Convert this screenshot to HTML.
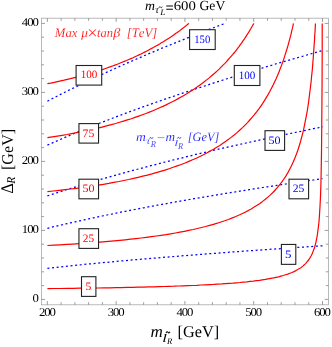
<!DOCTYPE html>
<html><head><meta charset="utf-8"><title>plot</title>
<style>html,body{margin:0;padding:0;background:#fff;}body{width:332px;height:347px;overflow:hidden;font-family:"Liberation Serif",serif;}svg{display:block}text{font-kerning:none}</style>
</head><body>
<svg width="332" height="347" viewBox="0 0 332 347" text-rendering="geometricPrecision" style="will-change:transform">
<rect x="0" y="0" width="332" height="347" fill="#fff"/>
<path d="M47.4,268.3 L51.9,267.8 L56.5,267.3 L61.1,266.9 L65.7,266.4 L70.3,265.9 L74.9,265.4 L79.5,265.0 L84.0,264.5 L88.6,264.0 L93.2,263.6 L97.8,263.2 L102.4,262.7 L107.0,262.3 L111.6,261.9 L116.1,261.4 L120.7,261.0 L125.3,260.6 L129.9,260.2 L134.5,259.8 L139.1,259.4 L143.7,259.0 L148.2,258.6 L152.8,258.2 L157.4,257.9 L162.0,257.5 L166.6,257.1 L171.2,256.7 L175.8,256.4 L180.3,256.0 L184.9,255.6 L189.5,255.3 L194.1,254.9 L198.7,254.5 L203.3,254.2 L207.9,253.8 L212.4,253.5 L217.0,253.2 L221.6,252.8 L226.2,252.5 L230.8,252.1 L235.4,251.8 L240.0,251.5 L244.5,251.1 L249.1,250.8 L253.7,250.5 L258.3,250.2 L262.9,249.8 L267.5,249.5 L272.1,249.2 L276.6,248.9 L281.2,248.6 L285.8,248.3 L290.4,248.0 L295.0,247.6 L299.6,247.3 L304.2,247.0 L308.7,246.7 L313.3,246.4 L317.9,246.1 L322.5,245.8" fill="none" stroke="#0000ff" stroke-width="1.25" stroke-dasharray="2 2.645" stroke-dashoffset="0"/>
<path d="M47.4,228.3 L51.9,227.2 L56.5,226.1 L61.1,225.0 L65.7,223.9 L70.3,222.9 L74.9,221.9 L79.5,220.9 L84.0,219.9 L88.6,218.9 L93.2,217.9 L97.8,216.9 L102.4,216.0 L107.0,215.0 L111.6,214.1 L116.1,213.1 L120.7,212.2 L125.3,211.3 L129.9,210.4 L134.5,209.5 L139.1,208.7 L143.7,207.8 L148.2,206.9 L152.8,206.1 L157.4,205.2 L162.0,204.4 L166.6,203.6 L171.2,202.7 L175.8,201.9 L180.3,201.1 L184.9,200.3 L189.5,199.5 L194.1,198.7 L198.7,197.9 L203.3,197.2 L207.9,196.4 L212.4,195.6 L217.0,194.9 L221.6,194.1 L226.2,193.3 L230.8,192.6 L235.4,191.9 L240.0,191.1 L244.5,190.4 L249.1,189.7 L253.7,188.9 L258.3,188.2 L262.9,187.5 L267.5,186.8 L272.1,186.1 L276.6,185.4 L281.2,184.7 L285.8,184.0 L290.4,183.3 L295.0,182.7 L299.6,182.0 L304.2,181.3 L308.7,180.6 L313.3,180.0 L317.9,179.3 L322.5,178.6" fill="none" stroke="#0000ff" stroke-width="1.25" stroke-dasharray="2 2.645" stroke-dashoffset="0"/>
<path d="M47.4,195.9 L51.9,194.4 L56.5,192.9 L61.1,191.4 L65.7,189.9 L70.3,188.5 L74.9,187.1 L79.5,185.7 L84.0,184.3 L88.6,182.9 L93.2,181.6 L97.8,180.2 L102.4,178.9 L107.0,177.6 L111.6,176.3 L116.1,175.0 L120.7,173.7 L125.3,172.5 L129.9,171.2 L134.5,170.0 L139.1,168.8 L143.7,167.6 L148.2,166.4 L152.8,165.2 L157.4,164.0 L162.0,162.8 L166.6,161.7 L171.2,160.5 L175.8,159.4 L180.3,158.3 L184.9,157.2 L189.5,156.0 L194.1,154.9 L198.7,153.8 L203.3,152.8 L207.9,151.7 L212.4,150.6 L217.0,149.5 L221.6,148.5 L226.2,147.4 L230.8,146.4 L235.4,145.4 L240.0,144.3 L244.5,143.3 L249.1,142.3 L253.7,141.3 L258.3,140.3 L262.9,139.3 L267.5,138.3 L272.1,137.3 L276.6,136.4 L281.2,135.4 L285.8,134.4 L290.4,133.5 L295.0,132.5 L299.6,131.6 L304.2,130.6 L308.7,129.7 L313.3,128.7 L317.9,127.8 L322.5,126.9" fill="none" stroke="#0000ff" stroke-width="1.25" stroke-dasharray="2 2.645" stroke-dashoffset="0"/>
<path d="M47.4,145.1 L51.9,143.1 L56.5,141.1 L61.1,139.1 L65.7,137.1 L70.3,135.1 L74.9,133.2 L79.5,131.3 L84.0,129.4 L88.6,127.6 L93.2,125.8 L97.8,123.9 L102.4,122.1 L107.0,120.4 L111.6,118.6 L116.1,116.8 L120.7,115.1 L125.3,113.4 L129.9,111.7 L134.5,110.0 L139.1,108.3 L143.7,106.7 L148.2,105.1 L152.8,103.4 L157.4,101.8 L162.0,100.2 L166.6,98.6 L171.2,97.1 L175.8,95.5 L180.3,93.9 L184.9,92.4 L189.5,90.9 L194.1,89.4 L198.7,87.9 L203.3,86.4 L207.9,84.9 L212.4,83.4 L217.0,81.9 L221.6,80.5 L226.2,79.0 L230.8,77.6 L235.4,76.2 L240.0,74.8 L244.5,73.3 L249.1,71.9 L253.7,70.6 L258.3,69.2 L262.9,67.8 L267.5,66.4 L272.1,65.1 L276.6,63.7 L281.2,62.4 L285.8,61.0 L290.4,59.7 L295.0,58.4 L299.6,57.1 L304.2,55.8 L308.7,54.5 L313.3,53.2 L317.9,51.9 L322.5,50.6" fill="none" stroke="#0000ff" stroke-width="1.25" stroke-dasharray="2 2.645" stroke-dashoffset="0"/>
<path d="M47.4,101.2 L51.9,98.8 L56.5,96.5 L61.1,94.1 L65.7,91.8 L70.3,89.5 L74.9,87.3 L79.5,85.1 L84.0,82.8 L88.6,80.7 L93.2,78.5 L97.8,76.3 L102.4,74.2 L107.0,72.1 L111.6,70.0 L116.1,68.0 L120.7,65.9 L125.3,63.9 L129.9,61.9 L134.5,59.9 L139.1,57.9 L143.7,55.9 L148.2,54.0 L152.8,52.1 L157.4,50.1 L162.0,48.2 L166.6,46.3 L171.2,44.5 L175.8,42.6 L180.3,40.8 L184.9,38.9 L189.5,37.1 L194.1,35.3 L198.7,33.5 L203.3,31.7 L207.9,29.9 L212.4,28.2 L217.0,26.4 L221.6,24.7 L225.1,23.4" fill="none" stroke="#0000ff" stroke-width="1.25" stroke-dasharray="2 2.645" stroke-dashoffset="0"/>
<path d="M47.4,288.6 L54.0,288.5 L60.6,288.5 L67.1,288.4 L73.5,288.3 L79.8,288.2 L86.1,288.2 L92.2,288.1 L98.3,288.0 L104.2,287.9 L110.1,287.8 L115.9,287.7 L121.6,287.6 L127.2,287.4 L132.7,287.3 L138.2,287.2 L143.5,287.1 L148.8,286.9 L154.0,286.8 L159.1,286.6 L164.1,286.5 L169.0,286.3 L173.9,286.2 L178.6,286.0 L183.3,285.8 L187.9,285.6 L192.4,285.5 L196.8,285.3 L201.1,285.0 L205.4,284.8 L209.6,284.6 L213.7,284.4 L217.7,284.1 L221.6,283.9 L225.4,283.6 L229.2,283.3 L232.9,283.1 L236.5,282.8 L240.0,282.5 L243.4,282.1 L246.8,281.8 L250.1,281.4 L253.3,281.1 L256.4,280.7 L259.4,280.3 L262.4,279.8 L265.3,279.4 L268.1,278.9 L270.8,278.4 L273.5,277.9 L276.1,277.3 L278.6,276.8 L281.0,276.1 L283.3,275.5 L285.6,274.8 L287.8,274.1 L289.9,273.3 L292.0,272.5 L294.0,271.6 L295.9,270.6 L297.7,269.6 L299.5,268.5 L301.2,267.4 L302.8,266.1 L304.3,264.8 L305.8,263.3 L307.2,261.7 L308.6,260.0 L309.8,258.1 L311.0,256.0 L312.2,253.7 L313.2,251.1 L314.3,248.3 L315.2,245.1 L316.1,241.6 L316.9,237.6 L317.6,233.0 L318.3,227.7 L319.0,221.7 L319.5,214.6 L320.0,206.3 L320.5,196.4 L320.9,184.5 L321.2,170.1 L321.5,152.6 L321.7,131.4 L321.9,106.1 L322.1,77.9 L322.2,50.2 L322.2,30.0 L322.2,23.4" fill="none" stroke="#ff0000" stroke-width="1.2" stroke-linejoin="round"/>
<path d="M47.4,245.5 L53.9,245.2 L60.3,244.8 L66.6,244.4 L72.9,244.1 L79.0,243.7 L85.1,243.3 L91.1,242.8 L97.0,242.4 L102.8,241.9 L108.5,241.4 L114.2,240.9 L119.8,240.4 L125.2,239.8 L130.6,239.2 L135.9,238.6 L141.2,238.0 L146.3,237.4 L151.4,236.7 L156.3,236.0 L161.2,235.3 L166.0,234.6 L170.7,233.8 L175.4,233.0 L179.9,232.2 L184.4,231.3 L188.8,230.4 L193.1,229.5 L197.4,228.5 L201.5,227.5 L205.6,226.5 L209.6,225.4 L213.5,224.3 L217.3,223.2 L221.0,222.0 L224.7,220.8 L228.3,219.5 L231.8,218.1 L235.2,216.7 L238.6,215.3 L241.9,213.8 L245.1,212.2 L248.2,210.6 L251.2,208.9 L254.2,207.1 L257.1,205.3 L259.9,203.4 L262.6,201.4 L265.3,199.3 L267.9,197.1 L270.4,194.9 L272.9,192.5 L275.2,190.0 L277.5,187.4 L279.7,184.7 L281.9,181.9 L283.9,179.0 L286.0,175.9 L287.9,172.6 L289.7,169.2 L291.5,165.7 L293.2,161.9 L294.9,158.0 L296.5,154.0 L298.0,149.7 L299.4,145.2 L300.8,140.5 L302.1,135.6 L303.4,130.6 L304.5,125.2 L305.6,119.7 L306.7,114.0 L307.7,108.1 L308.6,102.0 L309.4,95.7 L310.2,89.3 L311.0,82.8 L311.6,76.3 L312.3,69.8 L312.8,63.4 L313.3,57.2 L313.7,51.2 L314.1,45.6 L314.5,40.5 L314.7,35.9 L315.0,32.0 L315.2,28.7 L315.3,26.3 L315.4,24.6 L315.4,23.7 L315.4,23.4" fill="none" stroke="#ff0000" stroke-width="1.2" stroke-linejoin="round"/>
<path d="M47.4,191.6 L53.3,191.0 L59.2,190.3 L65.0,189.7 L70.8,189.0 L76.4,188.3 L82.0,187.5 L87.5,186.8 L92.9,186.0 L98.3,185.1 L103.5,184.3 L108.7,183.4 L113.8,182.4 L118.9,181.5 L123.8,180.5 L128.7,179.5 L133.5,178.4 L138.2,177.3 L142.8,176.2 L147.4,175.1 L151.9,173.9 L156.3,172.6 L160.6,171.4 L164.9,170.1 L169.1,168.7 L173.2,167.3 L177.2,165.9 L181.2,164.5 L185.1,163.0 L188.9,161.4 L192.6,159.8 L196.3,158.2 L199.9,156.5 L203.4,154.8 L206.8,153.0 L210.2,151.1 L213.5,149.3 L216.7,147.3 L219.9,145.4 L222.9,143.3 L225.9,141.2 L228.9,139.1 L231.7,136.9 L234.5,134.7 L237.3,132.4 L239.9,130.0 L242.5,127.6 L245.0,125.1 L247.5,122.6 L249.8,120.0 L252.1,117.4 L254.4,114.7 L256.6,111.9 L258.7,109.1 L260.7,106.3 L262.7,103.4 L264.6,100.4 L266.4,97.4 L268.2,94.4 L269.9,91.3 L271.5,88.2 L273.1,85.1 L274.6,81.9 L276.1,78.8 L277.5,75.6 L278.8,72.4 L280.0,69.3 L281.2,66.1 L282.4,63.0 L283.5,59.9 L284.5,56.9 L285.4,53.9 L286.3,51.0 L287.2,48.2 L288.0,45.5 L288.7,42.9 L289.4,40.4 L290.0,38.1 L290.6,35.9 L291.1,33.8 L291.5,31.9 L291.9,30.2 L292.3,28.7 L292.6,27.4 L292.8,26.3 L293.1,25.3 L293.2,24.6 L293.3,24.0 L293.4,23.7 L293.5,23.5 L293.5,23.4" fill="none" stroke="#ff0000" stroke-width="1.2" stroke-linejoin="round"/>
<path d="M47.4,137.7 L52.4,136.9 L57.3,136.1 L62.2,135.3 L67.0,134.5 L71.7,133.6 L76.4,132.7 L81.0,131.8 L85.6,130.9 L90.1,129.9 L94.5,128.9 L98.8,127.9 L103.1,126.8 L107.3,125.7 L111.5,124.6 L115.6,123.5 L119.6,122.3 L123.5,121.1 L127.4,119.9 L131.3,118.7 L135.0,117.4 L138.7,116.1 L142.4,114.8 L145.9,113.5 L149.4,112.1 L152.9,110.7 L156.3,109.3 L159.6,107.8 L162.9,106.4 L166.1,104.9 L169.2,103.3 L172.3,101.8 L175.3,100.2 L178.2,98.6 L181.1,97.0 L183.9,95.4 L186.7,93.8 L189.4,92.1 L192.0,90.4 L194.6,88.7 L197.1,87.0 L199.6,85.2 L202.0,83.5 L204.3,81.7 L206.6,79.9 L208.9,78.1 L211.0,76.3 L213.1,74.5 L215.2,72.7 L217.2,70.9 L219.1,69.1 L221.0,67.2 L222.8,65.4 L224.6,63.6 L226.3,61.8 L227.9,60.0 L229.5,58.2 L231.1,56.4 L232.6,54.7 L234.0,53.0 L235.4,51.3 L236.7,49.6 L238.0,47.9 L239.2,46.3 L240.3,44.7 L241.5,43.2 L242.5,41.7 L243.5,40.2 L244.5,38.8 L245.4,37.4 L246.2,36.1 L247.0,34.8 L247.8,33.6 L248.5,32.5 L249.2,31.4 L249.8,30.4 L250.3,29.5 L250.9,28.6 L251.3,27.8 L251.8,27.0 L252.1,26.3 L252.5,25.7 L252.8,25.2 L253.0,24.8 L253.3,24.4 L253.4,24.1 L253.6,23.8 L253.7,23.6 L253.7,23.5 L253.8,23.4 L253.8,23.4" fill="none" stroke="#ff0000" stroke-width="1.2" stroke-linejoin="round"/>
<path d="M47.4,83.7 L50.8,83.1 L54.2,82.4 L57.5,81.6 L60.8,80.9 L64.1,80.2 L67.3,79.4 L70.4,78.7 L73.6,77.9 L76.6,77.1 L79.7,76.3 L82.6,75.5 L85.6,74.7 L88.5,73.8 L91.3,73.0 L94.1,72.2 L96.9,71.3 L99.6,70.4 L102.3,69.6 L104.9,68.7 L107.5,67.8 L110.0,66.9 L112.5,66.0 L114.9,65.1 L117.3,64.2 L119.7,63.2 L122.0,62.3 L124.3,61.4 L126.5,60.5 L128.7,59.5 L130.9,58.6 L133.0,57.7 L135.0,56.7 L137.1,55.8 L139.0,54.9 L141.0,54.0 L142.9,53.0 L144.7,52.1 L146.5,51.2 L148.3,50.3 L150.0,49.3 L151.7,48.4 L153.4,47.5 L155.0,46.6 L156.6,45.7 L158.1,44.9 L159.6,44.0 L161.0,43.1 L162.4,42.3 L163.8,41.4 L165.1,40.6 L166.4,39.8 L167.6,39.0 L168.9,38.2 L170.0,37.4 L171.2,36.7 L172.3,35.9 L173.3,35.2 L174.3,34.5 L175.3,33.8 L176.3,33.1 L177.2,32.5 L178.0,31.9 L178.9,31.2 L179.7,30.7 L180.4,30.1 L181.2,29.5 L181.8,29.0 L182.5,28.5 L183.1,28.0 L183.7,27.6 L184.3,27.1 L184.8,26.7 L185.3,26.3 L185.7,26.0 L186.1,25.7 L186.5,25.3 L186.9,25.1 L187.2,24.8 L187.5,24.5 L187.8,24.3 L188.0,24.1 L188.2,24.0 L188.4,23.8 L188.5,23.7 L188.6,23.6 L188.7,23.5 L188.8,23.5 L188.9,23.4 L188.9,23.4 L188.9,23.4" fill="none" stroke="#ff0000" stroke-width="1.2" stroke-linejoin="round"/>
<rect x="41.4" y="18.2" width="287.0" height="286.6" fill="none" stroke="#a8a8a8" stroke-width="0.8"/>
<path d="M47.35,304.8 v-3.7 M47.35,18.2 v3.7 M61.11,304.8 v-2.6 M61.11,18.2 v2.6 M74.87,304.8 v-2.6 M74.87,18.2 v2.6 M88.62,304.8 v-2.6 M88.62,18.2 v2.6 M102.38,304.8 v-2.6 M102.38,18.2 v2.6 M116.14,304.8 v-3.7 M116.14,18.2 v3.7 M129.90,304.8 v-2.6 M129.90,18.2 v2.6 M143.65,304.8 v-2.6 M143.65,18.2 v2.6 M157.41,304.8 v-2.6 M157.41,18.2 v2.6 M171.17,304.8 v-2.6 M171.17,18.2 v2.6 M184.92,304.8 v-3.7 M184.92,18.2 v3.7 M198.68,304.8 v-2.6 M198.68,18.2 v2.6 M212.44,304.8 v-2.6 M212.44,18.2 v2.6 M226.20,304.8 v-2.6 M226.20,18.2 v2.6 M239.95,304.8 v-2.6 M239.95,18.2 v2.6 M253.71,304.8 v-3.7 M253.71,18.2 v3.7 M267.47,304.8 v-2.6 M267.47,18.2 v2.6 M281.23,304.8 v-2.6 M281.23,18.2 v2.6 M294.98,304.8 v-2.6 M294.98,18.2 v2.6 M308.74,304.8 v-2.6 M308.74,18.2 v2.6 M322.50,304.8 v-3.7 M322.50,18.2 v3.7 M41.4,299.40 h3.7 M328.4,299.40 h-3.7 M41.4,285.60 h2.6 M328.4,285.60 h-2.6 M41.4,271.80 h2.6 M328.4,271.80 h-2.6 M41.4,258.00 h2.6 M328.4,258.00 h-2.6 M41.4,244.20 h2.6 M328.4,244.20 h-2.6 M41.4,230.40 h3.7 M328.4,230.40 h-3.7 M41.4,216.60 h2.6 M328.4,216.60 h-2.6 M41.4,202.80 h2.6 M328.4,202.80 h-2.6 M41.4,189.00 h2.6 M328.4,189.00 h-2.6 M41.4,175.20 h2.6 M328.4,175.20 h-2.6 M41.4,161.40 h3.7 M328.4,161.40 h-3.7 M41.4,147.60 h2.6 M328.4,147.60 h-2.6 M41.4,133.80 h2.6 M328.4,133.80 h-2.6 M41.4,120.00 h2.6 M328.4,120.00 h-2.6 M41.4,106.20 h2.6 M328.4,106.20 h-2.6 M41.4,92.40 h3.7 M328.4,92.40 h-3.7 M41.4,78.60 h2.6 M328.4,78.60 h-2.6 M41.4,64.80 h2.6 M328.4,64.80 h-2.6 M41.4,51.00 h2.6 M328.4,51.00 h-2.6 M41.4,37.20 h2.6 M328.4,37.20 h-2.6 M41.4,23.40 h3.7 M328.4,23.40 h-3.7" fill="none" stroke="#858585" stroke-width="0.8"/>
<text transform="translate(46.82,316.30) scale(1.07,1)" font-family="Liberation Serif, serif" font-size="11.9" text-anchor="middle" fill="#000" letter-spacing="-1.0">200</text>
<text transform="translate(115.60,316.30) scale(1.07,1)" font-family="Liberation Serif, serif" font-size="11.9" text-anchor="middle" fill="#000" letter-spacing="-1.0">300</text>
<text transform="translate(184.39,316.30) scale(1.07,1)" font-family="Liberation Serif, serif" font-size="11.9" text-anchor="middle" fill="#000" letter-spacing="-1.0">400</text>
<text transform="translate(253.18,316.30) scale(1.07,1)" font-family="Liberation Serif, serif" font-size="11.9" text-anchor="middle" fill="#000" letter-spacing="-1.0">500</text>
<text transform="translate(321.96,316.30) scale(1.07,1)" font-family="Liberation Serif, serif" font-size="11.9" text-anchor="middle" fill="#000" letter-spacing="-1.0">600</text>
<text transform="translate(37.73,302.40) scale(1.07,1)" font-family="Liberation Serif, serif" font-size="11.9" text-anchor="end" fill="#000" letter-spacing="-1.0">0</text>
<text transform="translate(37.73,233.40) scale(1.07,1)" font-family="Liberation Serif, serif" font-size="11.9" text-anchor="end" fill="#000" letter-spacing="-1.0">100</text>
<text transform="translate(37.73,164.40) scale(1.07,1)" font-family="Liberation Serif, serif" font-size="11.9" text-anchor="end" fill="#000" letter-spacing="-1.0">200</text>
<text transform="translate(37.73,95.40) scale(1.07,1)" font-family="Liberation Serif, serif" font-size="11.9" text-anchor="end" fill="#000" letter-spacing="-1.0">300</text>
<text transform="translate(37.73,26.40) scale(1.07,1)" font-family="Liberation Serif, serif" font-size="11.9" text-anchor="end" fill="#000" letter-spacing="-1.0">400</text>
<rect x="76.1" y="65.5" width="25.6" height="19.6" fill="#fff" stroke="#222" stroke-width="1.1"/>
<text transform="translate(80.73,78.30) scale(0.979,1.0)" font-family="Liberation Serif, serif" font-size="11.3" fill="#ff0000">100</text>
<rect x="78.95" y="123.6" width="19.6" height="19.5" fill="#fff" stroke="#222" stroke-width="1.1"/>
<text transform="translate(82.53,137.20) scale(1.038,1.0)" font-family="Liberation Serif, serif" font-size="11.3" fill="#ff0000">75</text>
<rect x="78.95" y="179.2" width="19.6" height="19.6" fill="#fff" stroke="#222" stroke-width="1.1"/>
<text transform="translate(82.40,192.00) scale(1.067,1.0)" font-family="Liberation Serif, serif" font-size="11.3" fill="#ff0000">50</text>
<rect x="78.95" y="228.7" width="19.6" height="19.7" fill="#fff" stroke="#222" stroke-width="1.1"/>
<text transform="translate(82.80,241.70) scale(1.004,1.0)" font-family="Liberation Serif, serif" font-size="11.3" fill="#ff0000">25</text>
<rect x="81.5" y="276.7" width="14.4" height="19.7" fill="#fff" stroke="#222" stroke-width="1.1"/>
<text transform="translate(85.62,289.80) scale(1.033,1.0)" font-family="Liberation Serif, serif" font-size="11.3" fill="#ff0000">5</text>
<rect x="189.6" y="29.7" width="25.6" height="19.8" fill="#fff" stroke="#222" stroke-width="1.1"/>
<text transform="translate(194.26,42.50) scale(0.947,1.0)" font-family="Liberation Serif, serif" font-size="11.3" fill="#0000ff">150</text>
<rect x="234.3" y="65.5" width="25.6" height="20.0" fill="#fff" stroke="#222" stroke-width="1.1"/>
<text transform="translate(238.73,78.50) scale(0.979,1.0)" font-family="Liberation Serif, serif" font-size="11.3" fill="#0000ff">100</text>
<rect x="265.0" y="130.7" width="19.6" height="19.7" fill="#fff" stroke="#222" stroke-width="1.1"/>
<text transform="translate(268.40,144.00) scale(1.067,1.0)" font-family="Liberation Serif, serif" font-size="11.3" fill="#0000ff">50</text>
<rect x="289.0" y="179.2" width="19.6" height="19.6" fill="#fff" stroke="#222" stroke-width="1.1"/>
<text transform="translate(292.79,192.00) scale(1.033,1.0)" font-family="Liberation Serif, serif" font-size="11.3" fill="#0000ff">25</text>
<rect x="281.4" y="244.45" width="14.4" height="19.9" fill="#fff" stroke="#222" stroke-width="1.1"/>
<text transform="translate(285.05,257.80) scale(1.142,1.0)" font-family="Liberation Serif, serif" font-size="11.3" fill="#0000ff">5</text>
<text transform="translate(54.85,36.80) scale(0.976,1.0)" font-family="Liberation Serif, serif" font-size="13" font-style="italic" fill="#ff0000" stroke="#fff" stroke-width="0.16">Max</text>
<text transform="translate(81.21,36.80) scale(1.015,1.0)" font-family="Liberation Serif, serif" font-size="13" font-style="italic" fill="#ff0000" stroke="#fff" stroke-width="0.16">μ</text>
<text transform="translate(85.94,39.10) scale(1.010,1.0)" font-family="Liberation Serif, serif" font-size="18.5" font-style="italic" fill="#ff0000" stroke="#fff" stroke-width="0.16">×</text>
<text transform="translate(97.05,36.80) scale(0.961,1.0)" font-family="Liberation Serif, serif" font-size="13" font-style="italic" fill="#ff0000" stroke="#fff" stroke-width="0.16">tan</text>
<text transform="translate(113.13,36.80) scale(1.095,1.0)" font-family="Liberation Serif, serif" font-size="13" font-style="italic" fill="#ff0000" stroke="#fff" stroke-width="0.16">β</text>
<text transform="translate(126.66,36.80) scale(0.982,1.0)" font-family="Liberation Serif, serif" font-size="13" font-style="italic" fill="#ff0000" stroke="#fff" stroke-width="0.16">[TeV]</text>
<text transform="translate(136.01,141.30) scale(1.061,1.0)" font-family="Liberation Serif, serif" font-size="12.8" font-style="italic" fill="#0000ff" stroke="#fff" stroke-width="0.16">m</text>
<text transform="translate(146.17,143.70) scale(1.065,1.0)" font-family="Liberation Serif, serif" font-size="10.0" font-style="italic" fill="#0000ff" stroke="#fff" stroke-width="0.16">τ</text>
<path d="M149.60,138.60 C150.43,136.80 150.92,137.60 151.25,138.00 S152.07,139.20 152.90,137.40" fill="none" stroke="#0000ff" stroke-width="0.8"/>
<text transform="translate(150.75,147.00) scale(0.945,1.0)" font-family="Liberation Serif, serif" font-size="9.0" font-style="italic" fill="#0000ff" stroke="#fff" stroke-width="0.16">R</text>
<text transform="translate(155.94,141.50) scale(1.142,1.0)" font-family="Liberation Serif, serif" font-size="12.8" font-style="italic" fill="#0000ff" stroke="#fff" stroke-width="0.16">−</text>
<text transform="translate(165.42,141.30) scale(1.031,1.0)" font-family="Liberation Serif, serif" font-size="12.8" font-style="italic" fill="#0000ff" stroke="#fff" stroke-width="0.16">m</text>
<text transform="translate(174.14,145.80) scale(1.664,1.0)" font-family="Liberation Serif, serif" font-size="8.6" font-style="italic" fill="#0000ff" stroke="#fff" stroke-width="0.16">l</text>
<path d="M177.30,138.50 C178.20,136.70 178.74,137.50 179.10,137.90 S180.00,139.10 180.90,137.30" fill="none" stroke="#0000ff" stroke-width="0.8"/>
<text transform="translate(178.05,148.70) scale(0.967,1.0)" font-family="Liberation Serif, serif" font-size="8.8" font-style="italic" fill="#0000ff" stroke="#fff" stroke-width="0.16">R</text>
<text transform="translate(187.79,141.40) scale(0.968,1.0)" font-family="Liberation Serif, serif" font-size="12.8" font-style="italic" fill="#0000ff" stroke="#fff" stroke-width="0.16">[GeV]</text>
<text transform="translate(145.00,10.10) scale(1.031,1.0)" font-family="Liberation Serif, serif" font-size="13.4" font-style="italic" fill="#000">m</text>
<text transform="translate(155.28,13.00) scale(0.962,1.0)" font-family="Liberation Serif, serif" font-size="10.5" font-style="italic" fill="#000">τ</text>
<path d="M158.90,7.80 C159.73,6.00 160.22,6.80 160.55,7.20 S161.38,8.40 162.20,6.60" fill="none" stroke="#000" stroke-width="0.8"/>
<text transform="translate(160.31,14.90) scale(1.098,1.0)" font-family="Liberation Serif, serif" font-size="8.4" font-style="italic" fill="#000">L</text>
<text transform="translate(165.58,12.60) scale(1.067,1.2)" font-family="Liberation Serif, serif" font-size="13.5" fill="#000">=</text>
<text transform="translate(173.66,10.10) scale(1.121,1.0)" font-family="Liberation Serif, serif" font-size="13.2" fill="#000">600</text>
<text transform="translate(199.44,10.20) scale(0.984,1.0)" font-family="Liberation Serif, serif" font-size="13.9" fill="#000">GeV</text>
<text transform="translate(150.38,337.00) scale(1.011,1.0)" font-family="Liberation Serif, serif" font-size="16.9" font-style="italic" fill="#000">m</text>
<text transform="translate(162.21,341.70) scale(1.459,1.0)" font-family="Liberation Serif, serif" font-size="11.5" font-style="italic" fill="#000">l</text>
<path d="M166.00,332.90 C167.00,331.10 167.60,331.90 168.00,332.30 S169.00,333.50 170.00,331.70" fill="none" stroke="#000" stroke-width="1.1"/>
<text transform="translate(166.95,343.90) scale(1.008,1.0)" font-family="Liberation Serif, serif" font-size="8.6" font-style="italic" fill="#000">R</text>
<text transform="translate(177.59,337.05) scale(0.991,1.0)" font-family="Liberation Serif, serif" font-size="16.4" fill="#000">[GeV]</text>
<text transform="translate(13.10,193.61) rotate(-90) scale(0.966,1.07)" font-family="Liberation Serif, serif" font-size="16.6" fill="#000">Δ</text>
<text transform="translate(15.20,183.64) rotate(-90) scale(0.959,1.0)" font-family="Liberation Serif, serif" font-size="12.0" font-style="italic" fill="#000">R</text>
<text transform="translate(13.00,170.00) rotate(-90) scale(0.983,1.0)" font-family="Liberation Serif, serif" font-size="16.4" fill="#000">[GeV]</text>
</svg>
</body></html>
